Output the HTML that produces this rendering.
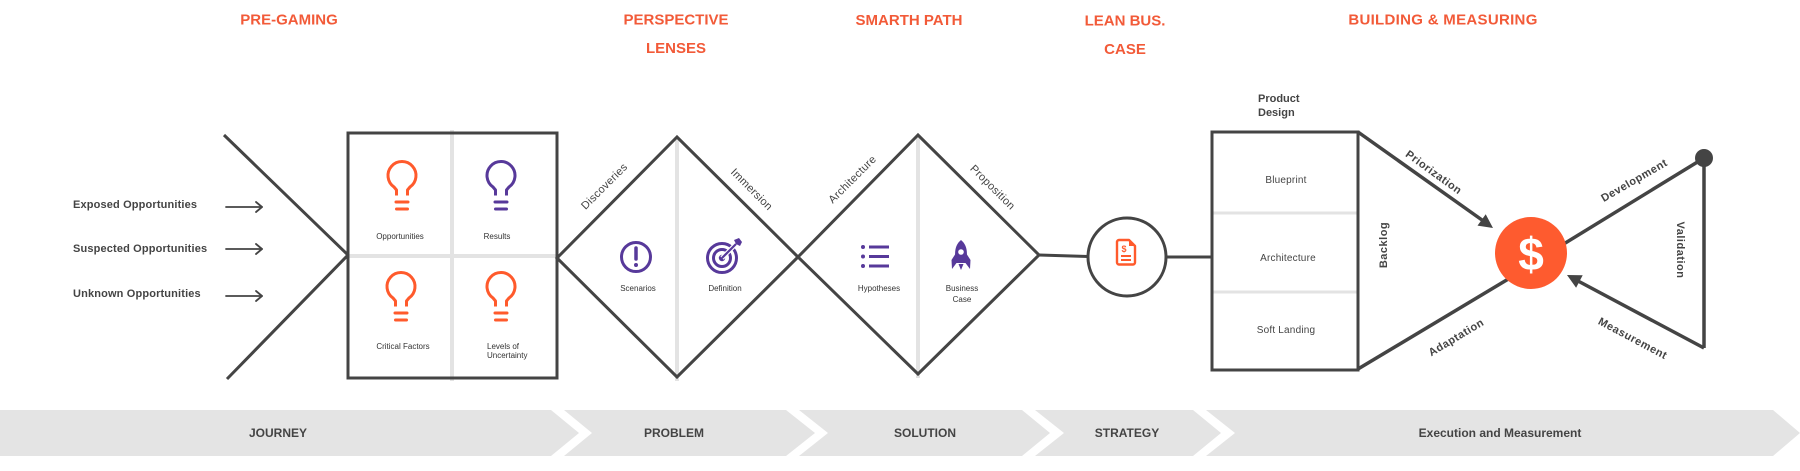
<!DOCTYPE html>
<html>
<head>
<meta charset="utf-8">
<style>
  html,body{margin:0;padding:0;background:#fff;}
  body{width:1800px;height:471px;overflow:hidden;}
  svg{display:block;}
  text{font-family:"Liberation Sans",Arial,sans-serif;}
  .hd{font-size:15px;font-weight:bold;fill:#F25A38;text-anchor:middle;}
  .lb{font-size:11px;font-weight:bold;fill:#444;}
  .sm{font-size:8px;fill:#333;text-anchor:middle;}
  .dl{font-size:11px;fill:#444;text-anchor:middle;letter-spacing:0.3px;}
  .bx{font-size:10px;fill:#444;text-anchor:middle;letter-spacing:0.2px;}
  .fl{font-size:11px;font-weight:bold;fill:#444;text-anchor:middle;letter-spacing:0.5px;}
  .bd{font-size:12px;font-weight:bold;fill:#444;text-anchor:middle;}
</style>
</head>
<body>
<svg width="1800" height="471" viewBox="0 0 1800 471" xmlns="http://www.w3.org/2000/svg">
  <defs>
    <g id="bulb">
      <path d="M10.5 35.5 L10.5 30 L8 27 A14 14 0 1 1 24 27 L21.5 30 L21.5 35.5" fill="none" stroke-width="3" stroke-linejoin="round"/>
      <line x1="10" y1="42" x2="22" y2="42" stroke-width="3" stroke-linecap="round"/>
      <line x1="10.5" y1="49" x2="21.5" y2="49" stroke-width="3" stroke-linecap="round"/>
    </g>
  </defs>

  <!-- Headers -->
  <text class="hd" x="289" y="24.5">PRE-GAMING</text>
  <text class="hd" x="676" y="24.5">PERSPECTIVE</text>
  <text class="hd" x="676" y="53">LENSES</text>
  <text class="hd" x="909" y="25">SMARTH PATH</text>
  <text class="hd" x="1125" y="25.5">LEAN BUS.</text>
  <text class="hd" x="1125" y="54">CASE</text>
  <text class="hd" x="1443" y="24.5" style="letter-spacing:0.3px">BUILDING &amp; MEASURING</text>

  <!-- Left labels and arrows -->
  <text class="lb" x="73" y="208" style="letter-spacing:0.15px">Exposed Opportunities</text>
  <text class="lb" x="73" y="252" style="letter-spacing:0.15px">Suspected Opportunities</text>
  <text class="lb" x="73" y="297" style="letter-spacing:0.15px">Unknown Opportunities</text>
  <g stroke="#444" stroke-width="1.8" fill="none" stroke-linecap="round" stroke-linejoin="round">
    <line x1="226" y1="207" x2="262" y2="207"/><polyline points="256,202 262,207 256,212"/>
    <line x1="226" y1="249" x2="262" y2="249"/><polyline points="256,244 262,249 256,254"/>
    <line x1="226" y1="296" x2="262" y2="296"/><polyline points="256,291 262,296 256,301"/>
  </g>

  <!-- "<" lines -->
  <polyline points="224,135 348,255 227,379" fill="none" stroke="#444" stroke-width="3"/>

  <!-- Box 1 -->
  <line x1="452" y1="130" x2="452" y2="381" stroke="#E3E3E3" stroke-width="4"/>
  <line x1="348" y1="256" x2="560" y2="256" stroke="#E3E3E3" stroke-width="4"/>
  <rect x="348" y="133" width="209" height="245" fill="none" stroke="#444" stroke-width="3"/>

  <use href="#bulb" transform="translate(386,160)" stroke="#FF5A2C"/>
  <use href="#bulb" transform="translate(485,160)" stroke="#57399A"/>
  <use href="#bulb" transform="translate(385,271)" stroke="#FF5A2C"/>
  <use href="#bulb" transform="translate(485,271)" stroke="#FF5A2C"/>

  <text class="sm" x="400" y="239">Opportunities</text>
  <text class="sm" x="497" y="239">Results</text>
  <text class="sm" x="403" y="349">Critical Factors</text>
  <text class="sm" x="487" y="349" style="text-anchor:start">Levels of</text>
  <text class="sm" x="487" y="358" style="text-anchor:start">Uncertainty</text>

  <!-- Diamonds -->
  <line x1="677" y1="137" x2="677" y2="381" stroke="#E3E3E3" stroke-width="4"/>
  <line x1="918" y1="135" x2="918" y2="378" stroke="#E3E3E3" stroke-width="4"/>
  <polygon points="557,258 677,137 798,257 677,377" fill="none" stroke="#444" stroke-width="3" stroke-linejoin="miter"/>
  <polygon points="798,257 918,135 1039,255 918,374" fill="none" stroke="#444" stroke-width="3" stroke-linejoin="miter"/>

  <text class="dl" transform="translate(604,186) rotate(-45)" y="4">Discoveries</text>
  <text class="dl" transform="translate(752,189) rotate(45)" y="4">Immersion</text>
  <text class="dl" transform="translate(852,179) rotate(-45)" y="4">Architecture</text>
  <text class="dl" transform="translate(993,187) rotate(45)" y="4">Proposition</text>

  <!-- Exclamation icon -->
  <circle cx="636" cy="257" r="14.5" fill="none" stroke="#57399A" stroke-width="3"/>
  <line x1="636" y1="248" x2="636" y2="259" stroke="#57399A" stroke-width="3.5" stroke-linecap="round"/>
  <circle cx="636" cy="265" r="2" fill="#57399A"/>
  <!-- Target icon -->
  <circle cx="722" cy="258" r="14.5" fill="none" stroke="#57399A" stroke-width="3"/>
  <circle cx="722" cy="258" r="8.5" fill="none" stroke="#57399A" stroke-width="3"/>
  <circle cx="722" cy="258" r="3.2" fill="#57399A"/>
  <line x1="722" y1="258" x2="736" y2="244" stroke="#fff" stroke-width="4.5"/>
  <line x1="722" y1="258" x2="736" y2="244" stroke="#57399A" stroke-width="2.2"/>
  <polygon points="734,240 736,244 740,246 742,242 739,238" fill="#57399A"/>
  <!-- List icon -->
  <g fill="#57399A">
    <circle cx="863" cy="247" r="2"/><circle cx="863" cy="256.5" r="2"/><circle cx="863" cy="266" r="2"/>
  </g>
  <g stroke="#57399A" stroke-width="3">
    <line x1="869" y1="247" x2="889" y2="247"/><line x1="869" y1="256.5" x2="889" y2="256.5"/><line x1="869" y1="266" x2="889" y2="266"/>
  </g>
  <!-- Rocket icon -->
  <g fill="#57399A">
    <path d="M961 240 C967 245 968 252 966 263 L956 263 C954 252 955 245 961 240 Z"/>
    <path d="M956 253 L951.5 260 L952 269 L956.5 263 Z"/>
    <path d="M966 253 L970.5 260 L970 269 L965.5 263 Z"/>
    <path d="M958.5 264 L963.5 264 L961 270 Z"/>
  </g>
  <circle cx="961" cy="252" r="2.8" fill="#fff"/>

  <text class="sm" x="638" y="291">Scenarios</text>
  <text class="sm" x="725" y="291">Definition</text>
  <text class="sm" x="879" y="291">Hypotheses</text>
  <text class="sm" x="962" y="291">Business</text>
  <text class="sm" x="962" y="302">Case</text>

  <!-- Connector to circle -->
  <line x1="1039" y1="255" x2="1088" y2="256.5" stroke="#444" stroke-width="3"/>
  <circle cx="1127" cy="257" r="39" fill="#fff" stroke="#444" stroke-width="3"/>
  <line x1="1166" y1="257" x2="1212" y2="257" stroke="#444" stroke-width="3"/>
  <!-- Doc icon -->
  <path d="M1119 240 H1129 L1135 246 V262.5 A2 2 0 0 1 1133 264.5 H1119 A2 2 0 0 1 1117 262.5 V242 A2 2 0 0 1 1119 240 Z" fill="none" stroke="#FF5A2C" stroke-width="2.4" stroke-linejoin="round"/>
  <path d="M1129 240 V246 H1135 Z" fill="#FF5A2C"/>
  <text x="1124" y="252" style="font-size:9px;font-weight:bold;fill:#FF5A2C;text-anchor:middle">$</text>
  <line x1="1121" y1="256" x2="1131" y2="256" stroke="#FF5A2C" stroke-width="2"/>
  <line x1="1121" y1="260" x2="1131" y2="260" stroke="#FF5A2C" stroke-width="2"/>

  <!-- Box 2 -->
  <text x="1258" y="102" style="font-size:11px;font-weight:bold;fill:#444">Product</text>
  <text x="1258" y="116" style="font-size:11px;font-weight:bold;fill:#444">Design</text>
  <line x1="1212" y1="213" x2="1358" y2="213" stroke="#E3E3E3" stroke-width="3"/>
  <line x1="1212" y1="292" x2="1358" y2="292" stroke="#E3E3E3" stroke-width="3"/>
  <rect x="1212" y="132" width="146" height="238" fill="none" stroke="#444" stroke-width="3"/>
  <text class="bx" x="1286" y="183">Blueprint</text>
  <text class="bx" x="1288" y="261">Architecture</text>
  <text class="bx" x="1286" y="333">Soft Landing</text>

  <!-- Funnel lines -->
  <g stroke="#444" stroke-width="3.5" fill="none">
    <line x1="1358" y1="132" x2="1482" y2="220"/>
    <line x1="1358" y1="369" x2="1520" y2="272"/>
    <line x1="1540" y1="258.5" x2="1704" y2="158"/>
    <line x1="1704" y1="158" x2="1704" y2="348"/>
    <line x1="1704" y1="348" x2="1579" y2="281.5"/>
  </g>
  <polygon points="1493,228 1477.5,225.6 1485.7,214.2" fill="#444"/>
  <polygon points="1567,275 1582.7,275.3 1576.1,287.7" fill="#444"/>
  <circle cx="1704" cy="158" r="9" fill="#444"/>

  <circle cx="1531" cy="253" r="36" fill="#FE5B2F"/>
  <text x="1531" y="270" style="font-size:46px;font-weight:bold;fill:#fff;text-anchor:middle">$</text>

  <text class="fl" transform="translate(1383,245) rotate(-90)" y="4">Backlog</text>
  <text class="fl" transform="translate(1434,172) rotate(36)" y="4">Priorization</text>
  <text class="fl" transform="translate(1634,180) rotate(-30)" y="4">Development</text>
  <text class="fl" transform="translate(1681,250) rotate(90)" y="4">Validation</text>
  <text class="fl" transform="translate(1633,338) rotate(28)" y="4">Measurement</text>
  <text class="fl" transform="translate(1456,337) rotate(-31)" y="4">Adaptation</text>

  <!-- Bottom band -->
  <g fill="#E4E4E4">
    <polygon points="0,410 551,410 579,433 551,456 0,456"/>
    <polygon points="564,410 786,410 815,433 786,456 564,456 592,433"/>
    <polygon points="799,410 1022,410 1050,433 1022,456 799,456 828,433"/>
    <polygon points="1035,410 1193,410 1221,433 1193,456 1035,456 1064,433"/>
    <polygon points="1206,410 1773,410 1800,433 1773,456 1206,456 1235,433"/>
  </g>
  <text class="bd" x="278" y="437">JOURNEY</text>
  <text class="bd" x="674" y="437">PROBLEM</text>
  <text class="bd" x="925" y="437">SOLUTION</text>
  <text class="bd" x="1127" y="437">STRATEGY</text>
  <text class="bd" x="1500" y="437">Execution and Measurement</text>
</svg>
</body>
</html>
